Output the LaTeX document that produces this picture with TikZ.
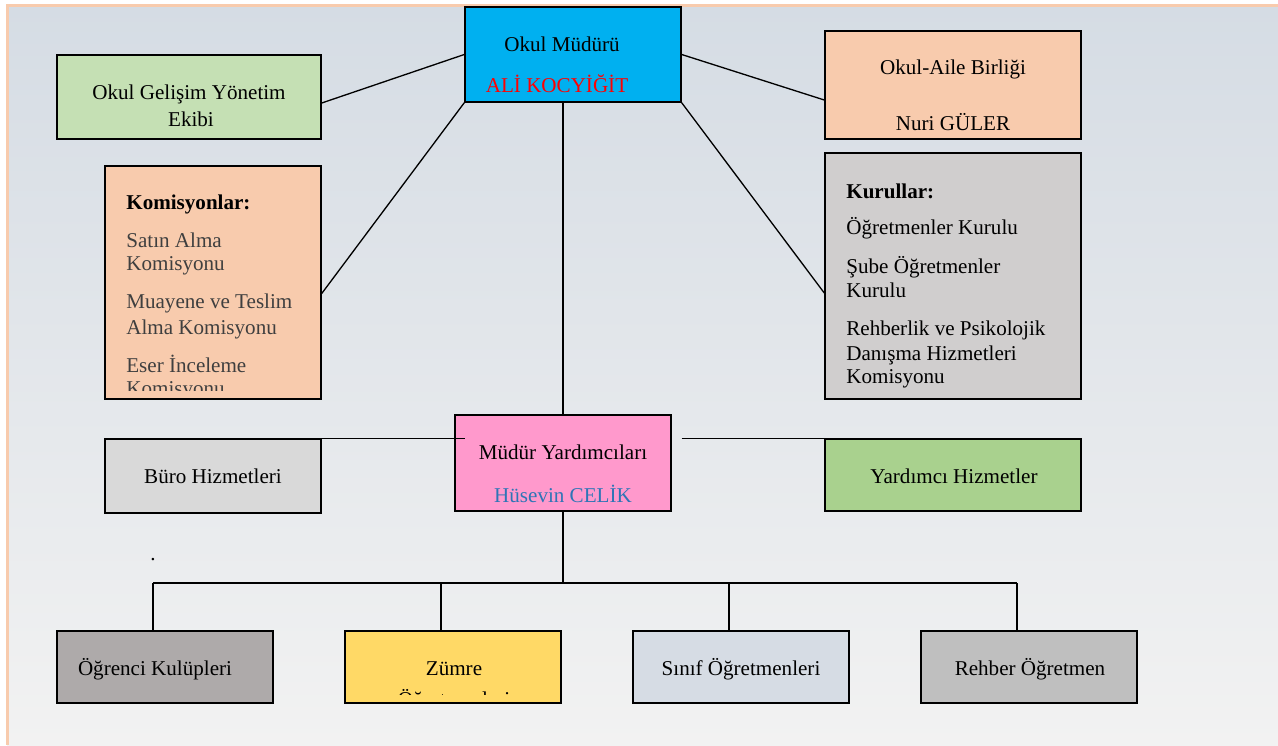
\documentclass[tikz,border=0pt]{standalone}
\usepackage{fontspec}
\setmainfont{Liberation Serif}

\definecolor{bgtop}{HTML}{D5DCE4}
\definecolor{bgbot}{HTML}{F2F2F2}
\definecolor{peach}{HTML}{F8CBAD}
\definecolor{omblue}{HTML}{00B0F0}
\definecolor{ogyegreen}{HTML}{C5E0B4}
\definecolor{kurgray}{HTML}{D0CECE}
\definecolor{mypink}{HTML}{FF99CC}
\definecolor{burgray}{HTML}{D9D9D9}
\definecolor{yrdgreen}{HTML}{A9D18E}
\definecolor{ogrgray}{HTML}{AEAAAA}
\definecolor{zumyellow}{HTML}{FFD966}
\definecolor{sinblue}{HTML}{D6DCE4}
\definecolor{rehgray}{HTML}{BFBFBF}
\definecolor{komgray}{HTML}{3F3F3F}
\definecolor{namblue}{HTML}{2E75B6}

\begin{document}
\begin{tikzpicture}[x=0.02cm, y=-0.02cm,
    box/.style={rectangle, draw=black, line width=0.85pt, inner sep=0pt},
    txt/.style={inner sep=0pt, anchor=base, font=\fontsize{12pt}{14.4pt}\selectfont},
    ltxt/.style={txt, anchor=base west},
    hdr/.style={ltxt, font=\fontsize{12pt}{14.4pt}\selectfont\bfseries},
    link/.style={line width=0.75pt}]
    % Background and frame
    \useasboundingbox (0,0) rectangle (1278,745);
    \shade[top color=bgtop, bottom color=bgbot] (7,5) rectangle (1278,745);
    \draw[peach, line width=1.6pt] (7.5,745) -- (7.5,5.5) -- (1278,5.5);

    % Top level
    \node[box, fill=omblue, minimum width=4.32cm, minimum height=1.9cm] (om) at (573,54.5) {};
    \node[txt] (om1) at (562,51) {Okul Müdürü};
    \node[txt, text=red] (om2) at (557,92) {ALİ KOCYİĞİT};

    \node[box, fill=ogyegreen, minimum width=5.28cm, minimum height=1.68cm] (ogye) at (189,97) {};
    \node[txt] (ogye1) at (189,99) {Okul Gelişim Yönetim};
    \node[txt] (ogye2) at (191,126) {Ekibi};

    \node[box, fill=peach, minimum width=5.12cm, minimum height=2.16cm] (oab) at (953,85) {};
    \node[txt] (oab1) at (953,74) {Okul-Aile Birliği};
    \node[txt] (oab2) at (953,130) {Nuri GÜLER};

    % Komisyonlar
    \node[box, fill=peach, minimum width=4.32cm, minimum height=4.66cm] (kom) at (213,282.5) {};
    \node[hdr] (komh) at (126,209) {Komisyonlar:};
    \foreach \yy/\lbl in {247/Satın Alma, 270/Komisyonu, 308/Muayene ve Teslim, 334/Alma Komisyonu, 372/Eser İnceleme}
        \node[ltxt, text=komgray] (kom\yy) at (126,\yy) {\lbl};
    \begin{scope}
        \clip (kom.north west) rectangle ([yshift=0.18cm]kom.south east);
        \node[ltxt, text=komgray] (kom395) at (126,395) {Komisyonu};
    \end{scope}

    % Kurullar
    \node[box, fill=kurgray, minimum width=5.12cm, minimum height=4.92cm] (kur) at (953,276) {};
    \node[hdr] (kurh) at (846,198) {Kurullar:};
    \foreach \yy/\lbl in {234/Öğretmenler Kurulu, 273/Şube Öğretmenler, 297/Kurulu, 335/Rehberlik ve Psikolojik, 360/Danışma Hizmetleri, 383/Komisyonu}
        \node[ltxt] (kur\yy) at (846,\yy) {\lbl};

    % Middle level
    \node[box, fill=mypink, minimum width=4.32cm, minimum height=1.92cm] (my) at (563,463) {};
    \node[txt] (my1) at (563,459) {Müdür Yardımcıları};
    \node[txt, text=namblue] (my2) at (563,502) {Hüsevin CELİK};

    \node[box, fill=burgray, minimum width=4.32cm, minimum height=1.48cm] (bur) at (213,476) {};
    \node[txt] (bur1) at (213,483) {Büro Hizmetleri};

    \node[box, fill=yrdgreen, minimum width=5.12cm, minimum height=1.44cm] (yrd) at (953,475) {};
    \node[txt] (yrd1) at (954,483) {Yardımcı Hizmetler};

    \node[txt] (dot) at (153,560) {.};

    % Bottom level
    \node[box, fill=ogrgray, minimum width=4.32cm, minimum height=1.44cm] (ogr) at (165,667) {};
    \node[txt] (ogr1) at (155,675) {Öğrenci Kulüpleri};

    \node[box, fill=zumyellow, minimum width=4.32cm, minimum height=1.44cm] (zum) at (453,667) {};
    \node[txt] (zum1) at (454,675) {Zümre};
    \begin{scope}
        \clip (zum.north west) rectangle ([yshift=0.18cm]zum.south east);
        \node[txt] (zum2) at (454,706) {Öğretmenleri};
    \end{scope}

    \node[box, fill=sinblue, minimum width=4.32cm, minimum height=1.44cm] (sin) at (741,667) {};
    \node[txt] (sin1) at (741,675) {Sınıf Öğretmenleri};

    \node[box, fill=rehgray, minimum width=4.32cm, minimum height=1.44cm] (reh) at (1029,667) {};
    \node[txt] (reh1) at (1030,675) {Rehber Öğretmen};

    % Connections from Okul Müdürü
    \draw[link] (om.west) -- ([yshift=-0.12cm]ogye.east);
    \draw[link] (om.east) -- ([yshift=-0.3cm]oab.west);
    \draw[link] (om.south west) -- ([yshift=-0.22cm]kom.east);
    \draw[link] (om.south east) -- ([yshift=-0.34cm]kur.west);
    \draw[link] (my.north |- om.south) -- (my.north);

    % Side services
    \draw[link] ([xshift=0.7cm]bur.north) -- ([xshift=0.22cm]bur.north -| my.west);
    \draw[link] ([xshift=0.2cm]my.east |- yrd.north) -- ([xshift=-1.12cm]yrd.north);

    % Bus to bottom row
    \coordinate (bus) at (563,583);
    \draw[link] (my.south) -- (bus);
    \draw[link] ([xshift=-0.24cm]ogr.north |- bus) -- ([xshift=-0.24cm]reh.north |- bus);
    \foreach \b in {ogr,zum,sin,reh}
        \draw[link] ([xshift=-0.24cm]\b.north |- bus) -- ([xshift=-0.24cm]\b.north);
\end{tikzpicture}
\end{document}
